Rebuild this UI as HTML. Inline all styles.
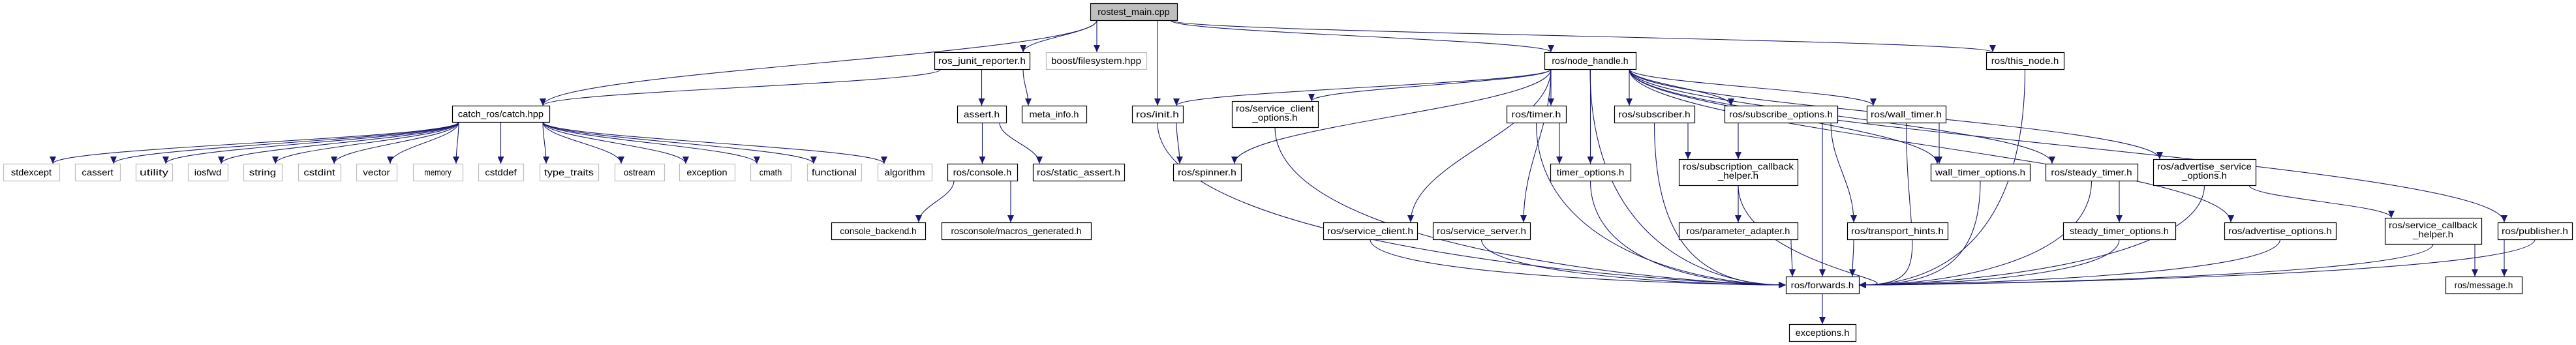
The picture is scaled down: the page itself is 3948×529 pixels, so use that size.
<!DOCTYPE html>
<html><head><meta charset="utf-8"><style>
html,body{margin:0;padding:0;background:#fff;}
svg{display:block;}
text{font-family:"Liberation Sans",sans-serif;font-size:14px;fill:#000;}
</style></head><body>
<svg id="g" width="3948" height="529" viewBox="0 0 3948 529" xmlns="http://www.w3.org/2000/svg">
<defs><marker id="a" markerUnits="userSpaceOnUse" markerWidth="12" markerHeight="10" refX="11" refY="5" orient="auto"><path d="M0,0 L11,5 L0,10 z" fill="#191970"/></marker></defs>
<g id="E" fill="none" stroke="#191970" stroke-width="1.1"></g>
<g id="N"></g>
</svg>
<script>
var N={
rostest:[1671,5,1804,31,["rostest_main.cpp"],2],
junit:[1432,80,1578,106,["ros_junit_reporter.h"]],
boost:[1603,80,1757,106,["boost/filesystem.hpp"],1],
catch:[693,162,842,187,["catch_ros/catch.hpp"]],
assert:[1467,162,1542,188,["assert.h"]],
meta:[1566,162,1665,188,["meta_info.h"]],
init:[1735,162,1813,188,["ros/init.h"]],
sco:[1888,155,2020,195,["ros/service_client","_options.h"]],
nh:[2367,80,2507,106,["ros/node_handle.h"]],
thisn:[3044,80,3163,106,["ros/this_node.h"]],
timer:[2309,162,2400,188,["ros/timer.h"]],
sub:[2474,162,2597,188,["ros/subscriber.h"]],
subo:[2643,162,2816,188,["ros/subscribe_options.h"]],
wt:[2861,162,2982,188,["ros/wall_timer.h"]],
console:[1452,251,1559,277,["ros/console.h"]],
sa:[1583,251,1723,277,["ros/static_assert.h"]],
spin:[1798,251,1902,277,["ros/spinner.h"]],
to:[2376,251,2499,277,["timer_options.h"]],
sch:[2573,244,2755,284,["ros/subscription_callback","_helper.h"]],
wto:[2959,251,3111,277,["wall_timer_options.h"]],
st:[3135,251,3276,277,["ros/steady_timer.h"]],
aso:[3300,244,3457,284,["ros/advertise_service","_options.h"]],
cb:[1274,341,1418,367,["console_backend.h"]],
mg:[1443,341,1672,367,["rosconsole/macros_generated.h"]],
sc:[2028,341,2172,367,["ros/service_client.h"]],
ss:[2196,341,2345,367,["ros/service_server.h"]],
pa:[2573,341,2755,367,["ros/parameter_adapter.h"]],
th:[2831,341,2985,367,["ros/transport_hints.h"]],
sto:[3162,341,3334,367,["steady_timer_options.h"]],
ao:[3409,341,3580,367,["ros/advertise_options.h"]],
sch2:[3655,334,3803,374,["ros/service_callback","_helper.h"]],
pub:[3828,341,3942,367,["ros/publisher.h"]],
fw:[2737,424,2849,450,["ros/forwards.h"]],
msg:[3748,424,3865,450,["ros/message.h"]],
exc:[2742,497,2844,523,["exceptions.h"]]
};
var std=[["stdexcept",5,91],["cassert",115,184],["utility",208,264],["iosfwd",288,349],["string",373,432],["cstdint",457,522],["vector",546,608],["memory",633,709],["cstddef",733,802],["type_traits",827,917],["ostream",942,1018],["exception",1041,1126],["cmath",1150,1212],["functional",1237,1320],["algorithm",1345,1428]];
var E=[["rostest","catch"],["rostest","junit"],["rostest","boost"],["rostest","init"],["rostest","nh"],["rostest","thisn"],
["junit","catch"],["junit","assert"],["junit","meta"],["assert","console"],["assert","sa"],["console","cb"],["console","mg"],
["init","spin"],["init","fw"],["nh","init"],["nh","spin"],["nh","sco"],["nh","timer"],["nh","to"],["nh","sub"],["nh","subo"],["nh","wt"],["nh","wto"],["nh","st"],["nh","aso"],["nh","ao"],["nh","pub"],["nh","sc"],["nh","ss"],["nh","fw"],
["thisn","fw"],["timer","to"],["timer","fw"],["to","fw"],["sub","sch"],["sub","fw"],["subo","sch"],["subo","fw"],["subo","th"],["sch","pa"],["sch","fw"],["pa","fw"],["th","fw"],["wt","wto"],["wt","fw"],["wto","fw"],["st","sto"],["st","fw"],["sto","fw"],["aso","sch2"],["aso","fw"],["ao","fw"],["sch2","msg"],["sch2","fw"],["pub","msg"],["pub","fw"],["sco","fw"],["sc","fw"],["ss","fw"],["fw","exc"]];
std.forEach(function(s){N["s_"+s[0]]=[s[1],251,s[2],277,[s[0]],1];E.push(["catch","s_"+s[0]]);});
var ns="http://www.w3.org/2000/svg",eg=document.getElementById("E"),ng=document.getElementById("N");
function el(t,a,p){var e=document.createElementNS(ns,t);for(var k in a)e.setAttribute(k,a[k]);p.appendChild(e);return e;}
function cl(v,a,b){return Math.min(Math.max(v,a),b);}
E.forEach(function(e){var s=N[e[0]],t=N[e[1]];
 var tx=(t[0]+t[2])/2,ty=t[1],d;
 var sx=cl(tx,s[0]+10,s[2]-10),sy=s[3];
 if(e[1]=="fw"&&e[0]!="subo"&&e[0]!="pa"&&e[0]!="th"){
   var k=sx<2737?-1:1; tx=k<0?2737:2849; ty=437;
   sx=cl((s[0]+s[2])/2,s[0]+10,s[2]-10);
   d="M"+sx+","+sy+" C"+sx+","+(sy+(ty-sy)*0.8)+" "+(tx+k*120)+","+ty+" "+tx+","+ty;
 } else {
   tx=cl(sx,t[0]+10,t[2]-10);
   var dy=ty-sy; d="M"+sx+","+sy+" C"+sx+","+(sy+dy*0.4)+" "+tx+","+(ty-dy*0.4)+" "+tx+","+ty;
 }
 el("path",{d:d,"marker-end":"url(#a)"},eg);
});
for(var k in N){var n=N[k],w=n[2]-n[0],h=n[3]-n[1];
 el("rect",{x:n[0]+0.5,y:n[1]+0.5,width:w,height:h,fill:n[5]==2?"#bfbfbf":"#fff",stroke:n[5]==1?"#bfbfbf":"#000","stroke-width":1.2},ng);
 var L=n[4],cx=n[0]+w/2;
 L.forEach(function(s,i){var y=L.length==1?n[1]+h/2+5:n[1]+16+i*14;
  var t=el("text",{x:cx,y:y,"text-anchor":"middle",textLength:Math.min(s.length*6.9,w-12),lengthAdjust:"spacingAndGlyphs"},ng);t.textContent=s;});
}
</script>
</body></html>
